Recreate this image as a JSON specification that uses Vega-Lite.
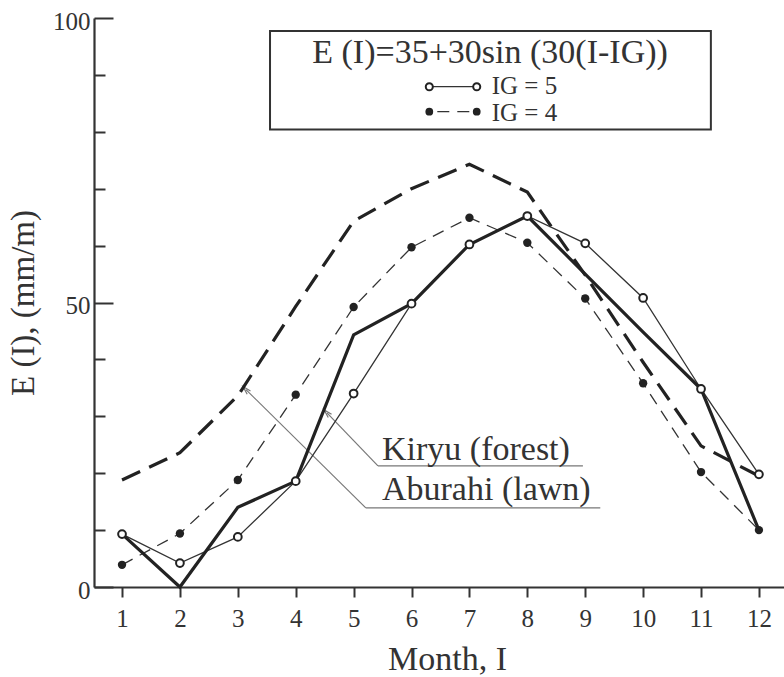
{
  "$schema": "https://vega.github.io/schema/vega-lite/v6.json",
  "autosize": {"type": "none"},
  "padding": {"left": 94, "top": 18, "right": 0, "bottom": 90},
  "width": 690,
  "height": 569,
  "background": "white",
  "config": {
    "view": {"stroke": null},
    "font": "Liberation Serif",
    "text": {"font": "Liberation Serif", "color": "#333"}
  },
  "datasets": {
    "series": [
      {"s": "IG5", "x": 1, "y": 9.3}, {"s": "IG5", "x": 2, "y": 4.2}, {"s": "IG5", "x": 3, "y": 8.8}, {"s": "IG5", "x": 4, "y": 18.6},
      {"s": "IG5", "x": 5, "y": 34.0}, {"s": "IG5", "x": 6, "y": 49.8}, {"s": "IG5", "x": 7, "y": 60.2}, {"s": "IG5", "x": 8, "y": 65.2},
      {"s": "IG5", "x": 9, "y": 60.4}, {"s": "IG5", "x": 10, "y": 50.8}, {"s": "IG5", "x": 11, "y": 34.8}, {"s": "IG5", "x": 12, "y": 19.8},
      {"s": "IG4", "x": 1, "y": 3.9}, {"s": "IG4", "x": 2, "y": 9.4}, {"s": "IG4", "x": 3, "y": 18.8}, {"s": "IG4", "x": 4, "y": 33.8},
      {"s": "IG4", "x": 5, "y": 49.2}, {"s": "IG4", "x": 6, "y": 59.7}, {"s": "IG4", "x": 7, "y": 64.9}, {"s": "IG4", "x": 8, "y": 60.5},
      {"s": "IG4", "x": 9, "y": 50.7}, {"s": "IG4", "x": 10, "y": 35.8}, {"s": "IG4", "x": 11, "y": 20.2}, {"s": "IG4", "x": 12, "y": 10.0},
      {"s": "Kiryu", "x": 1, "y": 9.3}, {"s": "Kiryu", "x": 2, "y": 0}, {"s": "Kiryu", "x": 3, "y": 14.0}, {"s": "Kiryu", "x": 4, "y": 18.6},
      {"s": "Kiryu", "x": 5, "y": 44.3}, {"s": "Kiryu", "x": 6, "y": 49.8}, {"s": "Kiryu", "x": 7, "y": 60.2}, {"s": "Kiryu", "x": 8, "y": 65.2},
      {"s": "Kiryu", "x": 9, "y": 55.0}, {"s": "Kiryu", "x": 10, "y": 44.8}, {"s": "Kiryu", "x": 11, "y": 34.8}, {"s": "Kiryu", "x": 12, "y": 10.0},
      {"s": "Aburahi", "x": 1, "y": 18.8}, {"s": "Aburahi", "x": 2, "y": 23.6}, {"s": "Aburahi", "x": 3, "y": 33.6}, {"s": "Aburahi", "x": 4, "y": 49.3},
      {"s": "Aburahi", "x": 5, "y": 64.3}, {"s": "Aburahi", "x": 6, "y": 70.0}, {"s": "Aburahi", "x": 7, "y": 74.3}, {"s": "Aburahi", "x": 8, "y": 69.4},
      {"s": "Aburahi", "x": 9, "y": 54.8}, {"s": "Aburahi", "x": 10, "y": 39.5}, {"s": "Aburahi", "x": 11, "y": 24.8}, {"s": "Aburahi", "x": 12, "y": 19.5}
    ],
    "leaders": [
      {"x": 4.54, "y": 30.6, "x2": 5.42, "y2": 21.3},
      {"x": 5.42, "y": 21.3, "x2": 8.96, "y2": 21.3},
      {"x": 3.14, "y": 34.7, "x2": 5.21, "y2": 13.9},
      {"x": 5.21, "y": 13.9, "x2": 9.26, "y2": 13.9}
    ],
    "tips": [
      {"x": 4.54, "y": 30.6},
      {"x": 3.14, "y": 34.7}
    ],
    "labels": [
      {"x": 5.49, "y": 22.3, "t": "Kiryu (forest)"},
      {"x": 5.49, "y": 15.3, "t": "Aburahi (lawn)"}
    ],
    "legendBox": [{"x": 3.556, "x2": 11.17, "y": 97.72, "y2": 80.4}],
    "legendTitle": [{"x": 7.356, "y": 92.1, "t": "E (I)=35+30sin (30(I-IG))"}],
    "legendLines": [
      {"s": "IG5", "x": 6.307, "x2": 7.126, "y": 87.93},
      {"s": "IG4", "x": 6.307, "x2": 7.126, "y": 83.53}
    ],
    "legendPts": [
      {"s": "IG5", "x": 6.307, "y": 87.93}, {"s": "IG5", "x": 7.126, "y": 87.93},
      {"s": "IG4", "x": 6.307, "y": 83.53}, {"s": "IG4", "x": 7.126, "y": 83.53}
    ],
    "legendText": [
      {"x": 7.385, "y": 86.6, "t": "IG = 5"},
      {"x": 7.385, "y": 81.9, "t": "IG = 4"}
    ]
  },
  "encoding": {
    "x": {
      "field": "x", "type": "quantitative",
      "scale": {"domain": [0.516, 12.433], "nice": false, "zero": false},
      "axis": {
        "values": [1, 2, 3, 4, 5, 6, 7, 8, 9, 10, 11, 12],
        "grid": false, "title": "Month, I",
        "domainColor": "#333", "domainWidth": 2.2,
        "tickColor": "#333", "tickWidth": 2, "tickSize": 10,
        "labelFont": "Liberation Serif", "labelFontSize": 25, "labelColor": "#333", "labelPadding": 9,
        "labelFlush": false,
        "titleFont": "Liberation Serif", "titleFontSize": 34, "titleFontWeight": "normal", "titleColor": "#333", "titlePadding": 11,
        "titleX": 353
      }
    },
    "y": {
      "field": "y", "type": "quantitative",
      "scale": {"domain": [0, 100], "nice": false, "zero": false},
      "axis": {
        "values": [0, 10, 20, 30, 40, 50, 60, 70, 80, 90, 100],
        "labelExpr": "datum.value % 50 === 0 ? datum.label : ''",
        "grid": false, "title": "E (I), (mm/m)",
        "domainColor": "#333", "domainWidth": 2.2,
        "tickColor": "#333", "tickWidth": 2,
        "tickSize": {"condition": {"test": "datum.value % 50 === 0", "value": -19}, "value": -11},
        "labelFont": "Liberation Serif", "labelFontSize": 25, "labelColor": "#333", "labelPadding": 23,
        "labelFlush": false, "labelOffset": 3,
        "titleFont": "Liberation Serif", "titleFontSize": 33, "titleFontWeight": "normal", "titleColor": "#333", "titlePadding": 12
      }
    }
  },
  "layer": [
    {
      "data": {"name": "leaders"},
      "mark": {"type": "rule", "color": "#777", "strokeWidth": 1.2},
      "encoding": {"x2": {"field": "x2"}, "y2": {"field": "y2"}}
    },
    {
      "data": {"name": "tips"},
      "mark": {"type": "point", "shape": "M-0.55,1 L0,-1 L0.55,1", "filled": false, "color": "#777", "strokeWidth": 1.2, "size": 70, "angle": -44, "opacity": 1},
      "encoding": {}
    },
    {
      "data": {"name": "series"},
      "transform": [{"filter": "datum.s === 'Aburahi'"}],
      "mark": {"type": "line", "color": "#222", "strokeWidth": 3.2, "strokeDash": [20, 10]},
      "encoding": {}
    },
    {
      "data": {"name": "series"},
      "transform": [{"filter": "datum.s === 'IG4'"}],
      "mark": {"type": "line", "color": "#333", "strokeWidth": 1.3, "strokeDash": [12, 8]},
      "encoding": {}
    },
    {
      "data": {"name": "series"},
      "transform": [{"filter": "datum.s === 'IG5'"}],
      "mark": {"type": "line", "color": "#333", "strokeWidth": 1.3},
      "encoding": {}
    },
    {
      "data": {"name": "series"},
      "transform": [{"filter": "datum.s === 'Kiryu'"}],
      "mark": {"type": "line", "color": "#222", "strokeWidth": 3.2},
      "encoding": {}
    },
    {
      "data": {"name": "series"},
      "transform": [{"filter": "datum.s === 'IG4'"}],
      "mark": {"type": "point", "shape": "circle", "filled": true, "color": "#222", "size": 70, "opacity": 1},
      "encoding": {}
    },
    {
      "data": {"name": "series"},
      "transform": [{"filter": "datum.s === 'IG5'"}],
      "mark": {"type": "point", "shape": "circle", "filled": false, "fill": "white", "fillOpacity": 1, "stroke": "#222", "strokeWidth": 2, "size": 60, "opacity": 1},
      "encoding": {}
    },
    {
      "data": {"name": "labels"},
      "mark": {"type": "text", "align": "left", "baseline": "alphabetic", "fontSize": 34, "font": "Liberation Serif", "color": "#333"},
      "encoding": {"text": {"field": "t"}}
    },
    {
      "data": {"name": "legendBox"},
      "mark": {"type": "rect", "fill": "white", "stroke": "#333", "strokeWidth": 2},
      "encoding": {"x2": {"field": "x2"}, "y2": {"field": "y2"}}
    },
    {
      "data": {"name": "legendTitle"},
      "mark": {"type": "text", "align": "center", "baseline": "alphabetic", "fontSize": 34, "font": "Liberation Serif", "color": "#333"},
      "encoding": {"text": {"field": "t"}}
    },
    {
      "data": {"name": "legendLines"},
      "transform": [{"filter": "datum.s === 'IG5'"}],
      "mark": {"type": "rule", "color": "#333", "strokeWidth": 1.3},
      "encoding": {"x2": {"field": "x2"}}
    },
    {
      "data": {"name": "legendLines"},
      "transform": [{"filter": "datum.s === 'IG4'"}],
      "mark": {"type": "rule", "color": "#333", "strokeWidth": 1.3, "strokeDash": [12, 8], "strokeDashOffset": -8},
      "encoding": {"x2": {"field": "x2"}}
    },
    {
      "data": {"name": "legendPts"},
      "transform": [{"filter": "datum.s === 'IG4'"}],
      "mark": {"type": "point", "shape": "circle", "filled": true, "color": "#222", "size": 60, "opacity": 1},
      "encoding": {}
    },
    {
      "data": {"name": "legendPts"},
      "transform": [{"filter": "datum.s === 'IG5'"}],
      "mark": {"type": "point", "shape": "circle", "filled": false, "fill": "white", "fillOpacity": 1, "stroke": "#222", "strokeWidth": 2, "size": 50, "opacity": 1},
      "encoding": {}
    },
    {
      "data": {"name": "legendText"},
      "mark": {"type": "text", "align": "left", "baseline": "alphabetic", "fontSize": 25, "font": "Liberation Serif", "color": "#333"},
      "encoding": {"text": {"field": "t"}}
    }
  ]
}
